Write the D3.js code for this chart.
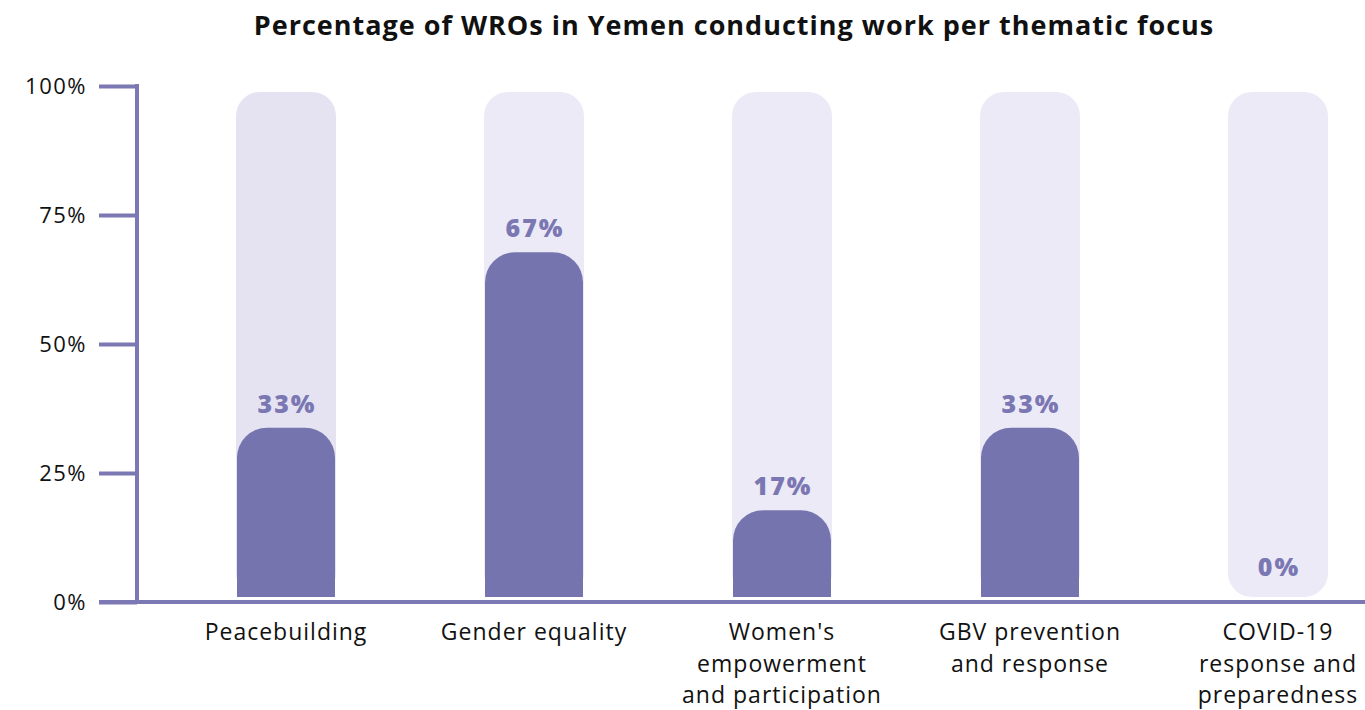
<!DOCTYPE html>
<html>
<head>
<meta charset="utf-8">
<script src="https://cdn.jsdelivr.net/npm/d3@7"></script>
<style>
  body { margin: 0; background: #fff; }
  text { font-family: "Open Sans", Lato, sans-serif; }
</style>
</head>
<body>
<div id="chart"></div>
<script>
var categories = ["Peacebuilding", "Gender equality", "Women's empowerment and participation", "GBV prevention and response", "COVID-19 response and preparedness"];
var catLines = [["Peacebuilding"], ["Gender equality"], ["Women's", "empowerment", "and participation"], ["GBV prevention", "and response"], ["COVID-19", "response and", "preparedness"]];
var values = [33, 67, 17, 33, 0];
var yTicks = [0, 25, 50, 75, 100];

var width = 1365, height = 710;
var purple = "#7674ae";

var svg = d3.select("#chart").append("svg")
    .attr("width", width)
    .attr("height", height);

// title
svg.append("text")
  .attr("x", 734)
  .attr("y", 35)
  .attr("text-anchor", "middle")
  .style("font-size", "27px")
  .style("font-weight", "bold")
  .style("letter-spacing", "1px")
  .style("fill", "#111")
  .text("Percentage of WROs in Yemen conducting work per thematic focus");

var y = d3.scaleLinear()
  .domain([0, 100])
  .range([602, 86]);

var x = d3.scalePoint()
  .domain(categories)
  .range([286, 1278]);

var barW = 100;
var base = y(0) - 5;

// background pills
svg.selectAll(".bg").data(categories)
  .enter().append("rect")
    .attr("class", "bg")
    .attr("x", function(d) { return x(d) - barW / 2; })
    .attr("y", y(100) + 6)
    .attr("width", barW)
    .attr("height", base - y(100) - 6)
    .attr("rx", 24)
    .style("fill", function(d, i) { return i == 0 ? "#e5e3f2" : "#eceaf6"; });

// value bars with rounded top
function barPath(cx, top, w, r) {
  var l = cx - w / 2, rt = cx + w / 2;
  r = Math.min(r, (base - top));
  return "M" + l + "," + base +
    "L" + l + "," + (top + r) +
    "A" + r + "," + r + " 0 0 1 " + (l + r) + "," + top +
    "L" + (rt - r) + "," + top +
    "A" + r + "," + r + " 0 0 1 " + rt + "," + (top + r) +
    "L" + rt + "," + base + "Z";
}

svg.selectAll(".bar").data(values)
  .enter().filter(function(d) { return d > 0; })
  .append("path")
    .attr("class", "bar")
    .attr("d", function(d, i) { return barPath(x(categories[i]), y(d) - 4, barW - 2, 30); })
    .style("fill", purple);

// value labels
svg.selectAll(".val").data(values)
  .enter().append("text")
    .attr("class", "val")
    .attr("x", function(d, i) { return x(categories[i]) + 1; })
    .attr("y", function(d) { return d > 0 ? y(d) - 19 : base - 21; })
    .attr("text-anchor", "middle")
    .style("font-size", "25px")
    .style("font-weight", "800")
    .style("letter-spacing", "2px")
    .style("fill", "#7a77b3")
    .text(function(d) { return d + "%"; });

// y axis
var yAxis = d3.axisLeft(y)
  .tickValues(yTicks)
  .tickSize(38)
  .tickPadding(12)
  .tickFormat(function(d) { return d + "%"; });

var gy = svg.append("g")
  .attr("transform", "translate(137,0)")
  .call(yAxis);
gy.select(".domain").remove();
gy.selectAll(".tick line").style("stroke", "#7b78b3").style("stroke-width", 4);
gy.selectAll(".tick text").style("font-size", "22px").style("letter-spacing", "1.5px").style("fill", "#111");

svg.append("line")
  .attr("x1", 137).attr("x2", 137)
  .attr("y1", y(100) - 2).attr("y2", y(0))
  .style("stroke", "#7b78b3").style("stroke-width", 4);

// x axis line
svg.append("line")
  .attr("x1", 99).attr("x2", width)
  .attr("y1", y(0)).attr("y2", y(0))
  .style("stroke", "#7b78b3").style("stroke-width", 4);

// category labels
var cat = svg.selectAll(".cat").data(catLines)
  .enter().append("text")
    .attr("class", "cat")
    .attr("text-anchor", "middle")
    .style("font-size", "23px")
    .style("letter-spacing", "1px")
    .style("fill", "#111");
cat.selectAll("tspan").data(function(d, i) { return d.map(function(t) { return {t: t, i: i}; }); })
  .enter().append("tspan")
    .attr("x", function(d) { return x(categories[d.i]); })
    .attr("y", function(d, j) { return 640 + j * 31.5; })
    .text(function(d) { return d.t; });
</script>
</body>
</html>
